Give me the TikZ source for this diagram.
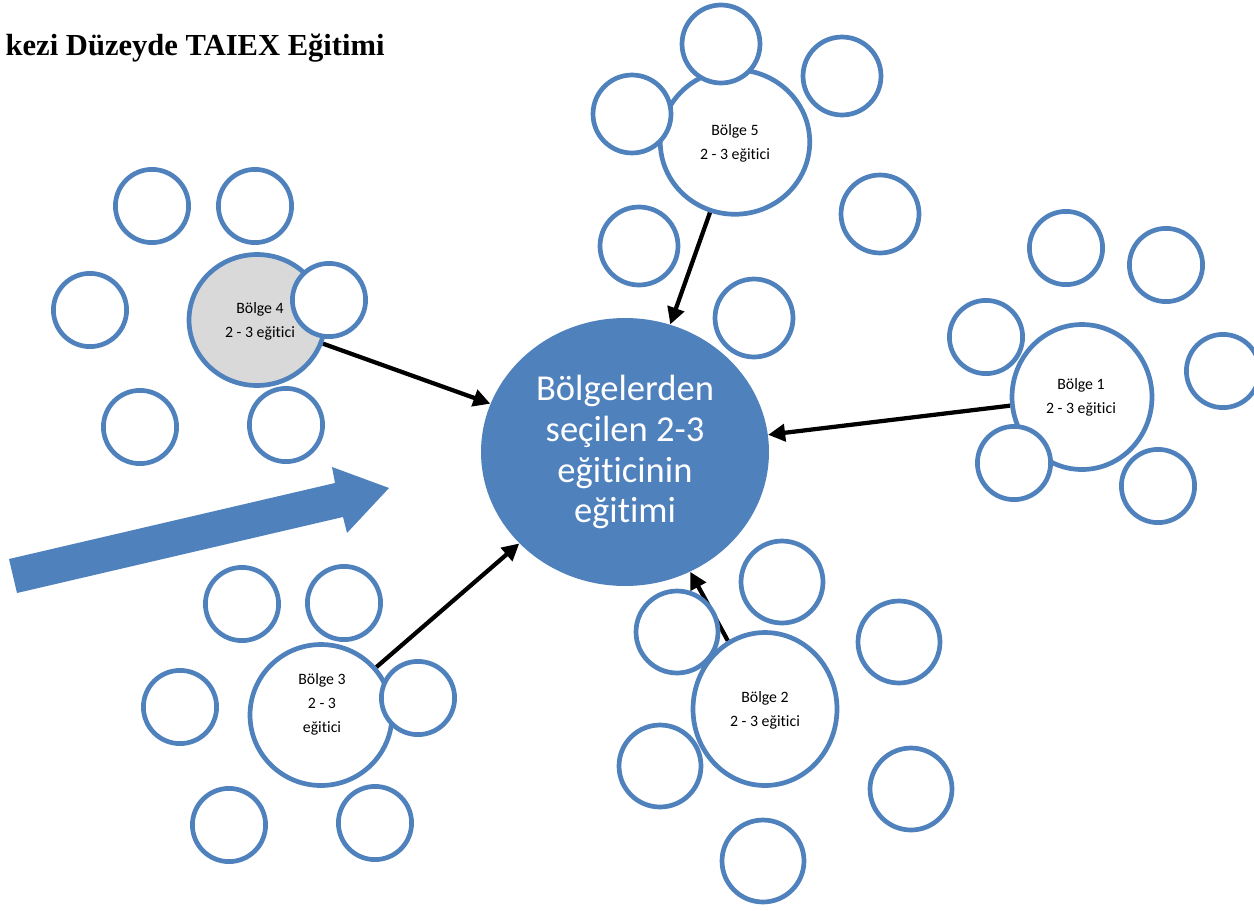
\documentclass[tikz,border=0pt]{standalone}
\usepackage{fontspec}
\setmainfont{Carlito}[RawFeature={-liga;-clig}]
\newfontfamily\titlefont{Liberation Serif}
\usetikzlibrary{shapes.geometric,arrows.meta}
\definecolor{myblue}{HTML}{4F81BD}
\definecolor{mygray}{HTML}{D9D9D9}
\pgfdeclarelayer{bg}
\pgfsetlayers{bg,main}
\begin{document}
\begin{tikzpicture}[x=0.02cm,y=-0.02cm,
  ring/.style={circle,draw=myblue,line width=0.094cm,fill=white,inner sep=0pt,minimum size=1.464cm},
  ringm/.style={ring,minimum size=1.56cm},
  ringl/.style={ring,minimum size=1.64cm},
  region/.style={ellipse,draw=myblue,line width=0.094cm,fill=white,inner sep=0pt},
  lbl/.style={align=center,font=\fontsize{9}{13.65}\selectfont,inner sep=0pt},
  conn/.style={line width=0.085cm,-{Triangle[length=0.34cm,width=0.34cm]}}
]
\useasboundingbox (0,0) rectangle (1254,910);

% title
\node[anchor=base east,inner sep=0pt,font=\titlefont\bfseries\fontsize{17.4}{20}\selectfont] (title) at (385,55) {kezi Düzeyde TAIEX Eğitimi};

% central node
\node[ellipse,fill=myblue,inner sep=0pt,minimum width=5.76cm,minimum height=5.36cm,
      text=white,align=center,font=\fontsize{20.8}{23.3}\selectfont] (c) at (625,452)
      {Bölgelerden\\seçilen 2-3\\eğiticinin\\eğitimi};

% big block arrow
\fill[myblue] (9,559) -- (335,483) -- (332,467) -- (389,488) -- (347,533) -- (343,517) -- (17,593) -- cycle;

% Bölge 5
\node[region,minimum width=2.99cm,minimum height=2.89cm] (b5) at (735,142) {};
\node[ringm] (s51) at (721,44) {};
\node[ringm] (s52) at (632,114) {};
\node[ringm] (s53) at (842,76) {};
\node[ringm] (s54) at (880,214) {};
\node[ringm] (s55) at (639,246) {};
\node[ringm] (s56) at (754,318) {};
\node[lbl] (l5) at (735,143) {Bölge 5\\2 - 3 eğitici};

% Bölge 4
\node[region,fill=mygray,minimum width=2.72cm,minimum height=2.62cm] (b4) at (257,320) {};
\node[ring] (s41) at (152,206) {};
\node[ring] (s42) at (255,206) {};
\node[ring] (s43) at (90,310) {};
\node[ring] (s44) at (329,300) {};
\node[ring] (s45) at (140,427) {};
\node[ring] (s46) at (286,425) {};
\node[lbl] (l4) at (260,321) {Bölge 4\\2 - 3 eğitici};

% Bölge 3
\node[region,minimum width=2.84cm,minimum height=2.82cm] (b3) at (321,715) {};
\node[ring] (s31) at (242,604) {};
\node[ring] (s32) at (344,603) {};
\node[ring] (s33) at (180,707) {};
\node[ring] (s34) at (418,698) {};
\node[ring] (s35) at (229,825) {};
\node[ring] (s36) at (375,823) {};
\node[lbl] (l3) at (322,704) {Bölge 3\\2 - 3\\eğitici};

% Bölge 1
\node[region,minimum width=2.80cm,minimum height=2.90cm] (b1) at (1082,397) {};
\node[ring] (s11) at (986,337) {};
\node[ring] (s12) at (1014,463) {};
\node[ring] (s13) at (1066,248) {};
\node[ring] (s14) at (1166,265) {};
\node[ring] (s15) at (1223,371) {};
\node[ring] (s16) at (1158,486) {};
\node[lbl] (l1) at (1081,397) {Bölge 1\\2 - 3 eğitici};

% Bölge 2
\node[ringl] (s21) at (677,632) {};
\node[ringl] (s24) at (660,766) {};
\node[region,minimum width=2.88cm,minimum height=3.06cm] (b2) at (765,709) {};
\node[ringl] (s22) at (782,582) {};
\node[ringl] (s23) at (899,642) {};
\node[ringl] (s25) at (911,789) {};
\node[ringl] (s26) at (763,861) {};
\node[lbl] (l2) at (765,710) {Bölge 2\\2 - 3 eğitici};

% background and connectors
\begin{pgfonlayer}{bg}
\fill[white] (0,0) rectangle (1254,910);
\draw[conn] (b5) -- (c);
\draw[conn] (b4) -- (c);
\draw[conn] (b3) -- (c);
\draw[conn] (b1) -- (c);
\draw[conn] (b2) -- (c);
\end{pgfonlayer}
\end{tikzpicture}
\end{document}
